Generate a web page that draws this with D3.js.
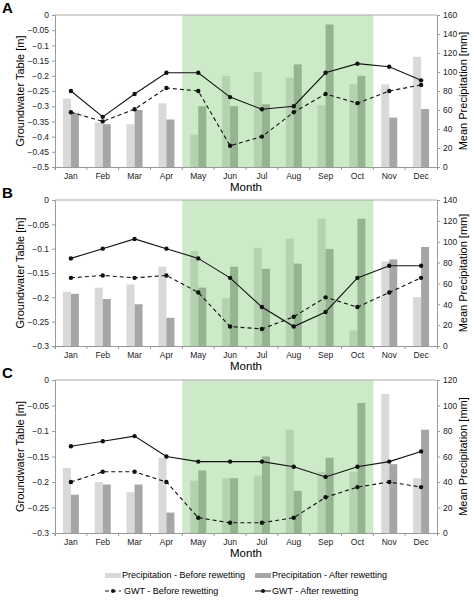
<!DOCTYPE html>
<html><head><meta charset="utf-8">
<script src="https://cdn.jsdelivr.net/npm/d3@7"></script>
<style>body{margin:0;background:#fff;font-family:"Liberation Sans",Arial,sans-serif}</style>
</head><body><svg id="c" width="474" height="601"></svg>
<script>
var months = ["Jan","Feb","Mar","Apr","May","Jun","Jul","Aug","Sep","Oct","Nov","Dec"];

// panel A
var precBeforeA = [72,47,45,67,34,96,100,94,65,87,87,116];
var precAfterA = [57,45,60,50,64,64,66,108,150,96,52,61];
var gwtBeforeA = [-0.32,-0.35,-0.31,-0.24,-0.25,-0.43,-0.40,-0.32,-0.26,-0.29,-0.25,-0.23];
var gwtAfterA = [-0.25,-0.335,-0.26,-0.19,-0.19,-0.27,-0.31,-0.30,-0.19,-0.16,-0.17,-0.215];
// panel B
var precBeforeB = [52,56,59,76,91,46,94,103,122,15,81,47];
var precAfterB = [50,45,40,27,56,76,74,79,93,122,83,95];
var gwtBeforeB = [-0.16,-0.155,-0.16,-0.155,-0.19,-0.26,-0.265,-0.24,-0.20,-0.22,-0.19,-0.16];
var gwtAfterB = [-0.12,-0.10,-0.08,-0.10,-0.12,-0.16,-0.22,-0.26,-0.23,-0.16,-0.135,-0.135];
// panel C
var precBeforeC = [51,40,32,59,41,43,45,81,48,48,109,43];
var precAfterC = [30,38,38,16,49,43,60,33,59,102,54,81];
var gwtBeforeC = [-0.20,-0.18,-0.18,-0.20,-0.27,-0.28,-0.28,-0.27,-0.23,-0.21,-0.20,-0.21];
var gwtAfterC = [-0.13,-0.12,-0.11,-0.15,-0.16,-0.16,-0.16,-0.17,-0.19,-0.17,-0.16,-0.14];

var leftTicksA = [0,-0.05,-0.1,-0.15,-0.2,-0.25,-0.3,-0.35,-0.4,-0.45,-0.5];
var leftTicksBC = [0,-0.05,-0.1,-0.15,-0.2,-0.25,-0.3];

var panels = [
  {label:"A", top:15, bottom:167, gmin:-0.5, pmax:160, pstep:20, lt:leftTicksA,
   pb:precBeforeA, pa:precAfterA, gb:gwtBeforeA, ga:gwtAfterA},
  {label:"B", top:200, bottom:346, gmin:-0.3, pmax:140, pstep:20, lt:leftTicksBC,
   pb:precBeforeB, pa:precAfterB, gb:gwtBeforeB, ga:gwtAfterB},
  {label:"C", top:380, bottom:533, gmin:-0.3, pmax:120, pstep:20, lt:leftTicksBC,
   pb:precBeforeC, pa:precAfterC, gb:gwtBeforeC, ga:gwtAfterC}
];

var svg = d3.select("#c");
var x0 = 55, x1 = 437;
var x = d3.scaleBand().domain(months).range([x0, x1]);
var bw = 8;

panels.forEach(function(p) {
  var g = svg.append("g");
  var yl = d3.scaleLinear().domain([p.gmin, 0]).range([p.bottom, p.top]);
  var yr = d3.scaleLinear().domain([0, p.pmax]).range([p.bottom, p.top]);

  g.append("text").attr("x", 2).attr("y", p.top - 2).attr("font-size", 15)
    .attr("font-weight", "bold").text(p.label);

  // bars
  months.forEach(function(m, i) {
    var cx = x(m) + x.bandwidth() / 2;
    g.append("rect").attr("x", cx - bw).attr("width", bw)
      .attr("y", yr(p.pb[i])).attr("height", p.bottom - yr(p.pb[i])).attr("fill", "#d9d9d9");
    g.append("rect").attr("x", cx).attr("width", bw)
      .attr("y", yr(p.pa[i])).attr("height", p.bottom - yr(p.pa[i])).attr("fill", "#a6a6a6");
  });

  // wet season shading
  g.append("rect").attr("x", x("May")).attr("y", p.top)
    .attr("width", x("Oct") + x.bandwidth() - x("May")).attr("height", p.bottom - p.top)
    .attr("fill", "#79c86f").attr("opacity", 0.38);

  // frame
  g.append("line").attr("x1", x0).attr("x2", x1).attr("y1", p.top).attr("y2", p.top).attr("stroke", "#aaa");

  var axL = g.append("g").attr("transform", "translate(" + x0 + ",0)")
    .call(d3.axisLeft(yl).tickValues(p.lt).tickSize(3).tickFormat(function(d){ return d === 0 ? "0" : d3.format("")(+d.toFixed(2)); }));
  var axR = g.append("g").attr("transform", "translate(" + x1 + ",0)")
    .call(d3.axisRight(yr).tickValues(d3.range(0, p.pmax + 1, p.pstep)).tickSize(3));
  var axB = g.append("g").attr("transform", "translate(0," + p.bottom + ")")
    .call(d3.axisBottom(x).tickSize(3));
  axB.selectAll(".tick line").attr("transform", "translate(" + (-x.bandwidth() / 2) + ",0)");
  [axL, axR, axB].forEach(function(a) {
    a.selectAll("path,line").attr("stroke", "#999");
    a.selectAll("text").attr("font-size", 8.5).attr("fill", "#222").attr("font-family", "Liberation Sans, Arial");
  });

  // lines
  var line = d3.line().x(function(d, i){ return x(months[i]) + x.bandwidth() / 2; }).y(function(d){ return yl(d); });
  g.append("path").datum(p.gb).attr("d", line).attr("fill", "none").attr("stroke", "#111")
    .attr("stroke-width", 1.1).attr("stroke-dasharray", "4,3");
  g.append("path").datum(p.ga).attr("d", line).attr("fill", "none").attr("stroke", "#111").attr("stroke-width", 1.1);
  [p.gb, p.ga].forEach(function(s) {
    g.selectAll(null).data(s).enter().append("circle")
      .attr("cx", function(d, i){ return x(months[i]) + x.bandwidth() / 2; })
      .attr("cy", function(d){ return yl(d); }).attr("r", 2.2).attr("fill", "#111");
  });

  g.append("text").attr("x", (x0 + x1) / 2).attr("y", p.bottom + 24).attr("text-anchor", "middle")
    .attr("font-size", 11.5).text("Month");
  g.append("text").attr("transform", "translate(24," + (p.top + p.bottom) / 2 + ") rotate(-90)")
    .attr("text-anchor", "middle").attr("font-size", 11).text("Groundwater Table [m]");
  g.append("text").attr("transform", "translate(467," + (p.top + p.bottom) / 2 + ") rotate(-90)")
    .attr("text-anchor", "middle").attr("font-size", 11).text("Mean Precipitation [mm]");
});

// legend
var lg = svg.append("g").attr("font-size", 9);
lg.append("rect").attr("x", 105).attr("y", 573).attr("width", 16).attr("height", 5).attr("fill", "#d9d9d9");
lg.append("text").attr("x", 122).attr("y", 578).text("Precipitation - Before rewetting");
lg.append("rect").attr("x", 255).attr("y", 573).attr("width", 16).attr("height", 5).attr("fill", "#a6a6a6");
lg.append("text").attr("x", 272).attr("y", 578).text("Precipitation - After rewetting");
lg.append("line").attr("x1", 105).attr("x2", 121).attr("y1", 591).attr("y2", 591).attr("stroke", "#111").attr("stroke-dasharray", "4,3");
lg.append("circle").attr("cx", 113).attr("cy", 591).attr("r", 2).attr("fill", "#111");
lg.append("text").attr("x", 124).attr("y", 594).text("GWT - Before rewetting");
lg.append("line").attr("x1", 255).attr("x2", 271).attr("y1", 591).attr("y2", 591).attr("stroke", "#111");
lg.append("circle").attr("cx", 263).attr("cy", 591).attr("r", 2).attr("fill", "#111");
lg.append("text").attr("x", 272).attr("y", 594).text("GWT  - After rewetting");
</script></body></html>
